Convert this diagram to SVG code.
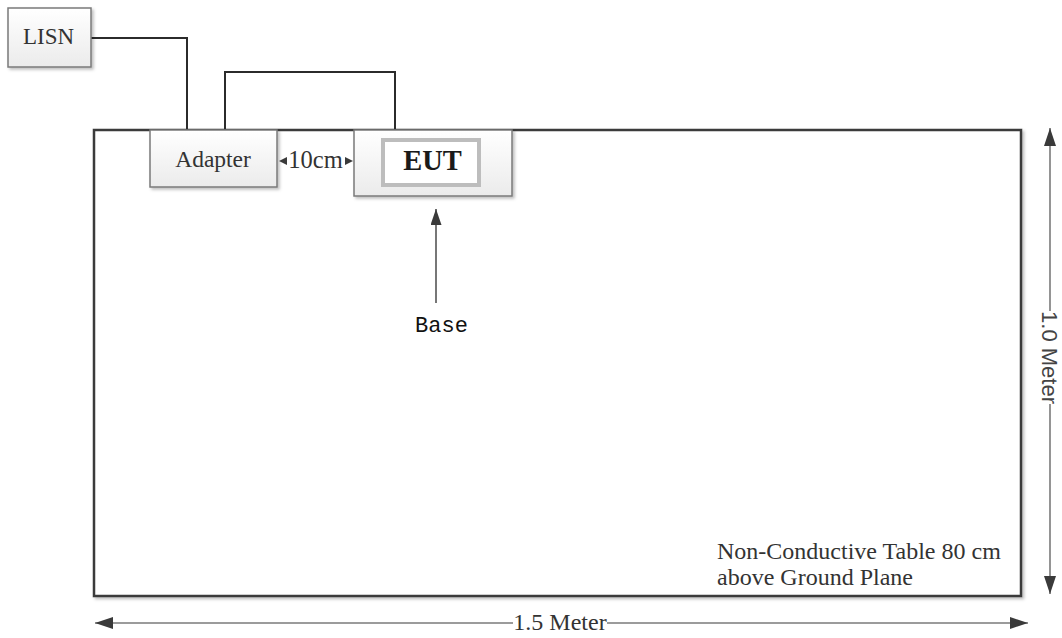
<svg xmlns="http://www.w3.org/2000/svg" width="1062" height="638" viewBox="0 0 1062 638">
<style>
.serif{font-family:"Liberation Serif","Times New Roman",serif;fill:#333}
.box{fill:url(#g);stroke:#7a7a7a;stroke-width:1.5}
.wire{fill:none;stroke:#2b2b2b;stroke-width:2}
.dim{fill:none;stroke:#7a7a7a;stroke-width:1.6}
</style>
<defs>
<linearGradient id="g" x1="0" y1="0" x2="0" y2="1">
<stop offset="0" stop-color="#ffffff"/>
<stop offset="1" stop-color="#ebebeb"/>
</linearGradient>
<filter id="sh" x="-10%" y="-10%" width="130%" height="130%">
<feDropShadow dx="2" dy="2" stdDeviation="1.5" flood-color="#000" flood-opacity="0.25"/>
</filter>
<marker id="ah" viewBox="0 0 18 12" refX="18" refY="6" markerWidth="18" markerHeight="12" markerUnits="userSpaceOnUse" orient="auto-start-reverse">
<path d="M0,0 L18,6 L0,12 z" fill="#3a3a3a"/>
</marker>
<marker id="ahb" viewBox="0 0 16 11" refX="16" refY="5.5" markerWidth="16" markerHeight="11" markerUnits="userSpaceOnUse" orient="auto">
<path d="M0,0 L16,5.5 L0,11 z" fill="#3a3a3a"/>
</marker>
</defs>
<rect width="1062" height="638" fill="#fff"/>

<g id="table">
<rect x="94" y="130" width="927" height="466" fill="#fff" stroke="#3a3a3a" stroke-width="2.5" filter="url(#sh)"/>
<text class="serif" x="717" y="559" font-size="24">Non-Conductive Table 80 cm</text>
<text class="serif" x="717" y="585" font-size="24">above Ground Plane</text>
</g>

<g id="connectors">
<polyline class="wire" points="91,38 187,38 187,130"/>
<polyline class="wire" points="225,130 225,72 395,72 395,130"/>
<line x1="436" y1="303" x2="436" y2="209" stroke="#777" stroke-width="2" marker-end="url(#ahb)"/>
<line x1="1050" y1="128" x2="1050" y2="311" class="dim" marker-start="url(#ah)"/>
<line x1="1050" y1="404" x2="1050" y2="594" class="dim" marker-end="url(#ah)"/>
<line x1="95" y1="623" x2="513" y2="623" class="dim" marker-start="url(#ah)"/>
<line x1="607" y1="623" x2="1028" y2="623" class="dim" marker-end="url(#ah)"/>
</g>

<g id="lisn">
<rect class="box" x="8" y="8" width="83" height="59" filter="url(#sh)"/>
<text class="serif" x="48.5" y="44" font-size="23" text-anchor="middle">LISN</text>
</g>

<g id="adapter">
<rect class="box" x="150" y="130" width="127" height="57" filter="url(#sh)"/>
<text class="serif" x="213" y="167" font-size="23.5" text-anchor="middle">Adapter</text>
</g>

<g id="gap-label">
<path d="M279,161 L287,157 L287,165 z" fill="#3a3a3a"/>
<path d="M353,161 L345,157 L345,165 z" fill="#3a3a3a"/>
<text class="serif" x="315.5" y="168" font-size="24.5" text-anchor="middle">10cm</text>
</g>

<g id="eut">
<rect class="box" x="354" y="130" width="158" height="66" filter="url(#sh)"/>
<rect x="383" y="140" width="96" height="45" fill="#fff" stroke="#bdbdbd" stroke-width="4"/>
<text x="432.5" y="170" font-size="28.5" font-weight="bold" text-anchor="middle" font-family="Liberation Serif, Times New Roman, serif" fill="#1a1a1a">EUT</text>
</g>

<g id="base">
<text x="441.5" y="332" font-size="22" text-anchor="middle" font-family="Liberation Mono, Courier New, monospace" fill="#111">Base</text>
</g>

<g id="dims">
<text class="serif" x="560" y="630" font-size="24" text-anchor="middle">1.5 Meter</text>
<text x="0" y="0" font-size="22" text-anchor="middle" font-family="Liberation Sans, Arial, sans-serif" fill="#444" transform="translate(1042,357.5) rotate(90)">1.0 Meter</text>
</g>
</svg>
